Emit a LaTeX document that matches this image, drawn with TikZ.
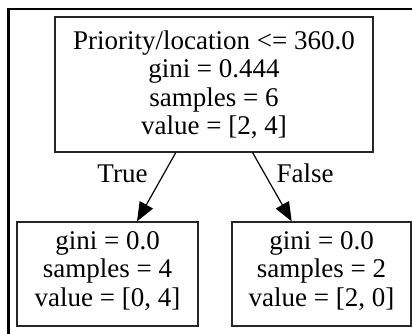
\documentclass[tikz,border=0pt]{standalone}
\usepackage{fontspec}
\setmainfont{Liberation Serif}
\usetikzlibrary{arrows.meta}
\begin{document}
\begin{tikzpicture}[x=1pt,y=-1pt,
  treebox/.style={draw=black!85, line width=1.3pt, inner sep=0pt,
    font=\fontsize{27}{28.5}\selectfont, text height=20pt},
  edgelbl/.style={font=\fontsize{27}{28.5}\selectfont, anchor=base, inner sep=0pt},
  treeedge/.style={line width=1.2pt, -{Triangle[length=19pt,width=15pt]}}]
\useasboundingbox (0,0) rectangle (412,334);
\fill[white] (0,0) rectangle (412,334);
\draw[line width=2.2pt] (412,9.3) -- (8.5,9.3) -- (8.5,334);
\node[treebox, minimum width=318pt, minimum height=135pt, text depth=90pt] (root) at (214,84.5)
  {\begin{tabular}[t]{@{}c@{}}Priority/location <= 360.0\\ gini = 0.444\\ samples = 6\\ value = [2, 4]\end{tabular}};
\node[treebox, minimum width=181pt, minimum height=104pt, text depth=70pt] (lc) at (107.5,274)
  {\begin{tabular}[t]{@{}c@{}}gini = 0.0\\ samples = 4\\ value = [0, 4]\end{tabular}};
\node[treebox, minimum width=179pt, minimum height=104pt, text depth=70pt] (rc) at (321.5,274)
  {\begin{tabular}[t]{@{}c@{}}gini = 0.0\\ samples = 2\\ value = [2, 0]\end{tabular}};
\draw[treeedge] (root) -- (lc);
\draw[treeedge] (root) -- (rc);
\node[edgelbl] (truelbl) at (122.5,182) {True};
\node[edgelbl] (falselbl) at (305,182) {False};
\end{tikzpicture}
\end{document}
